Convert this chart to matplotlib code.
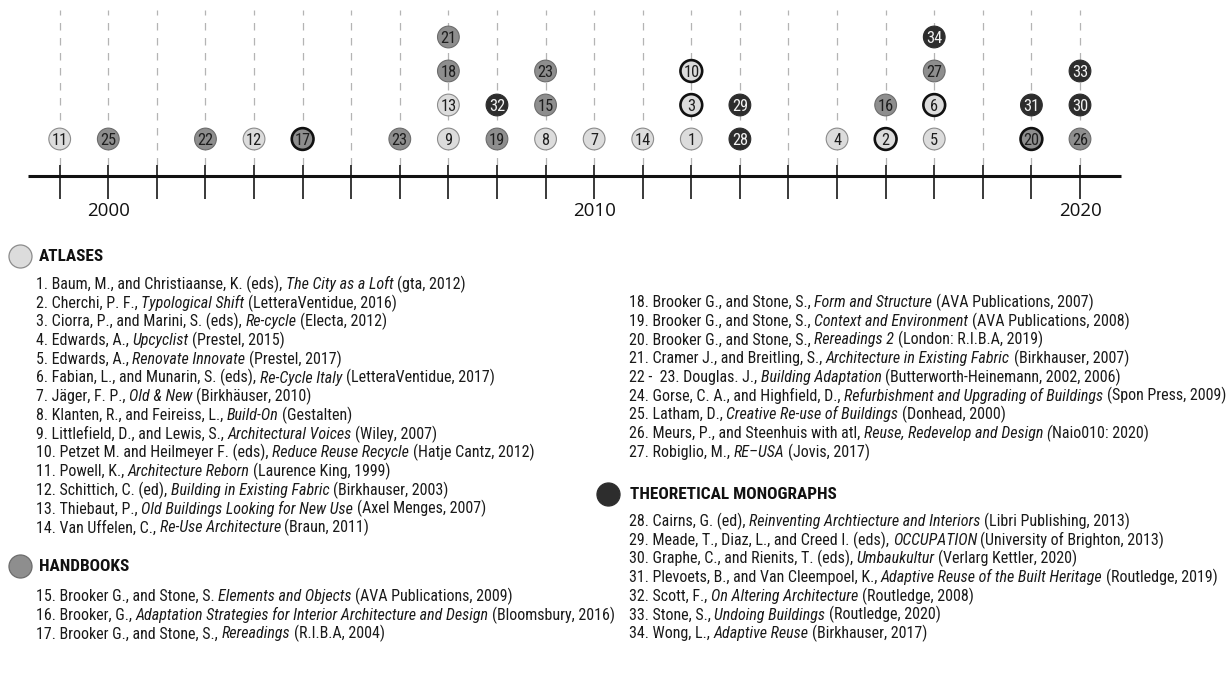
import matplotlib
matplotlib.use("Agg")
import matplotlib.pyplot as plt
from matplotlib import font_manager

# ---------------------------------------------------------------
# Dados: publicações na linha do tempo (de baixo para cima por ano)
# ---------------------------------------------------------------
marker_nums = [11, 25, 22, 12, 17, 23, 9, 13, 18, 21, 19, 32, 8, 15, 23, 7, 14,
               1, 3, 10, 28, 29, 4, 2, 16, 5, 6, 27, 34, 20, 31, 26, 30, 33]
marker_years = [1999, 2000, 2002, 2003, 2004, 2006, 2007, 2007, 2007, 2007,
                2008, 2008, 2009, 2009, 2009, 2010, 2011, 2012, 2012, 2012,
                2013, 2013, 2015, 2016, 2016, 2017, 2017, 2017, 2017, 2019,
                2019, 2020, 2020, 2020]
outlined = [17, 10, 3, 2, 6, 20]

atlas_ids = list(range(1, 15))
handbook_ids = list(range(15, 28))
theory_ids = list(range(28, 35))

year_ticks = list(range(1999, 2021))
year_labels = [2000, 2010, 2020]

# referências: (normal, itálico, normal)
atlases = [
    ("1. Baum, M., and Christiaanse, K. (eds), ", "The City as a Loft", " (gta, 2012)"),
    ("2. Cherchi, P. F., ", "Typological Shift", " (LetteraVentidue, 2016)"),
    ("3. Ciorra, P., and Marini, S. (eds), ", "Re-cycle", " (Electa, 2012)"),
    ("4. Edwards, A., ", "Upcyclist", " (Prestel, 2015)"),
    ("5. Edwards, A., ", "Renovate Innovate", " (Prestel, 2017)"),
    ("6. Fabian, L., and Munarin, S. (eds), ", "Re-Cycle Italy", " (LetteraVentidue, 2017)"),
    ("7. Jäger, F. P., ", "Old & New", " (Birkhäuser, 2010)"),
    ("8. Klanten, R., and Feireiss, L., ", "Build-On", " (Gestalten)"),
    ("9. Littlefield, D., and Lewis, S., ", "Architectural Voices", " (Wiley, 2007)"),
    ("10. Petzet M. and Heilmeyer F. (eds), ", "Reduce Reuse Recycle", " (Hatje Cantz, 2012)"),
    ("11. Powell, K., ", "Architecture Reborn", " (Laurence King, 1999)"),
    ("12. Schittich, C. (ed), ", "Building in Existing Fabric", " (Birkhauser, 2003)"),
    ("13. Thiebaut, P., ", "Old Buildings Looking for New Use", " (Axel Menges, 2007)"),
    ("14. Van Uffelen, C., ", "Re-Use Architecture", " (Braun, 2011)"),
]
handbooks_left = [
    ("15. Brooker G., and Stone, S. ", "Elements and Objects", " (AVA Publications, 2009)"),
    ("16. Brooker, G., ", "Adaptation Strategies for Interior Architecture and Design", " (Bloomsbury, 2016)"),
    ("17. Brooker G., and Stone, S., ", "Rereadings", " (R.I.B.A, 2004)"),
]
handbooks_right = [
    ("18. Brooker G., and Stone, S., ", "Form and Structure", " (AVA Publications, 2007)"),
    ("19. Brooker G., and Stone, S., ", "Context and Environment", " (AVA Publications, 2008)"),
    ("20. Brooker G., and Stone, S., ", "Rereadings 2", " (London: R.I.B.A, 2019)"),
    ("21. Cramer J., and Breitling, S., ", "Architecture in Existing Fabric", " (Birkhauser, 2007)"),
    ("22 -  23. Douglas. J., ", "Building Adaptation", " (Butterworth-Heinemann, 2002, 2006)"),
    ("24. Gorse, C. A., and Highfield, D., ", "Refurbishment and Upgrading of Buildings", " (Spon Press, 2009)"),
    ("25. Latham, D., ", "Creative Re-use of Buildings", " (Donhead, 2000)"),
    ("26. Meurs, P., and Steenhuis with atl, ", "Reuse, Redevelop and Design (", "Naio010: 2020)"),
    ("27. Robiglio, M., ", "RE\u2013USA", " (Jovis, 2017)"),
]
theory = [
    ("28. Cairns, G. (ed), ", "Reinventing Archtiecture and Interiors", " (Libri Publishing, 2013)"),
    ("29. Meade, T., Diaz, L., and Creed I. (eds), ", "OCCUPATION", " (University of Brighton, 2013)"),
    ("30. Graphe, C., and Rienits, T. (eds), ", "Umbaukultur", " (Verlarg Kettler, 2020)"),
    ("31. Plevoets, B., and Van Cleempoel, K., ", "Adaptive Reuse of the Built Heritage", " (Routledge, 2019)"),
    ("32. Scott, F., ", "On Altering Architecture", " (Routledge, 2008)"),
    ("33. Stone, S., ", "Undoing Buildings", " (Routledge, 2020)"),
    ("34. Wong, L., ", "Adaptive Reuse", " (Birkhauser, 2017)"),
]

# cores por categoria
FILL = {"A": "#dcdcdc", "H": "#8e8e8e", "T": "#2d2d2d"}
EDGE = {"A": "#8c8c8c", "H": "#6c6c6c", "T": "#2d2d2d"}
TXT = {"A": "#1e1e1e", "H": "#1e1e1e", "T": "#f2f2f2"}


# fonte estreita, se houver alguma instalada
def escolhe_fonte():
    lista = font_manager.fontManager.ttflist
    nomes = {f.name for f in lista}
    for n in ["Liberation Sans Narrow", "Arial Narrow", "Roboto Condensed",
              "Open Sans Condensed", "Noto Sans Condensed",
              "Noto Sans SemiCondensed", "Open Sans SemiCondensed"]:
        if n in nomes:
            return n, "normal"
    for f in lista:
        if f.stretch in ("condensed", "semi-condensed", "extra-condensed") and \
                any(k in f.name for k in ("Sans", "Roboto", "Lato", "Inter")):
            return f.name, f.stretch
    return "Liberation Sans", "normal"


NARROW, STRETCH = escolhe_fonte()
FAM = [NARROW, "DejaVu Sans"]

W, H = 1229, 680
fig = plt.figure(figsize=(W / 100, H / 100), dpi=100)

# ===========================================
# LINHA DO TEMPO
# ===========================================
tl_h = 230
tl = fig.add_axes([0, 1 - tl_h / H, 1, tl_h / H])
px_ano = (1080 - 59.7) / 21
tl.set_xlim(1999 - 59.7 / px_ano, 1999 + (W - 59.7) / px_ano)
row_px = 34.0
tl.set_ylim((139 - tl_h) / row_px, 139 / row_px)
tl.axis("off")

y_axis = (139 - 176) / row_px
tick_top = (139 - 165) / row_px
tick_bot = (139 - 199) / row_px
dash_top = (139 - 10) / row_px

for ano in year_ticks:
    tl.plot([ano, ano], [tick_top, dash_top], color="#b4b4b4", lw=0.9,
            dashes=(6, 6), zorder=1)
tl.vlines(year_ticks, tick_bot, tick_top, color="#2a2a2a", lw=1.3, zorder=2)
tl.plot([year_ticks[0] - 0.65, year_ticks[-1] + 0.84], [y_axis, y_axis],
        color="#111111", lw=2.2, solid_capstyle="butt", zorder=2)

for ano in year_labels:
    tl.text(ano, (139 - 211) / row_px, str(ano), ha="center", va="center",
            fontsize=13.5, family=["Open Sans", "DejaVu Sans"], color="#111111")


def categoria(n):
    if n in atlas_ids:
        return "A"
    if n in handbook_ids:
        return "H"
    return "T"


contagem = {}
xs, ys, fills, edges, lws = [], [], [], [], []
for n, ano in zip(marker_nums, marker_years):
    nivel = contagem.get(ano, 0)
    contagem[ano] = nivel + 1
    cat = categoria(n)
    xs.append(ano)
    ys.append(nivel)
    fills.append(FILL[cat])
    if n in outlined:
        edges.append("#111111")
        lws.append(1.9)
    else:
        edges.append(EDGE[cat])
        lws.append(0.8)
    tl.text(ano, nivel, str(n), ha="center", va="center_baseline", fontsize=11.8,
            family=FAM, stretch=STRETCH, color=TXT[cat], zorder=4)

tl.scatter(xs, ys, s=245, c=fills, edgecolors=edges, linewidths=lws, zorder=3)

# ===========================================
# LEGENDA / REFERÊNCIAS
# ===========================================
lg = fig.add_axes([0, 0, 1, 1], zorder=-1)
lg.set_xlim(0, W)
lg.set_ylim(H, 0)
lg.axis("off")

renderer = fig.canvas.get_renderer()


def largura(s, style, fs, weight="normal"):
    t = lg.text(0, 0, s, fontsize=fs, style=style, family=FAM, stretch=STRETCH,
                fontweight=weight)
    w = t.get_window_extent(renderer).width
    t.remove()
    return w


def largura_item(partes, fs):
    total = 0
    for parte, st in zip(partes, ("normal", "italic", "normal")):
        total += largura(parte.replace(" ", "\u00a0"), st, fs)
    return total


# tamanhos ajustados à largura das linhas da referência
ITEM_FS = 10.0 * 596 / largura_item(handbooks_right[5], 10.0)
HEAD_FS = 10.0 * 207 / largura("THEORETICAL MONOGRAPHS", "normal", 10.0, "bold")

esp = {st: largura("a a", st, ITEM_FS) - largura("aa", st, ITEM_FS)
       for st in ("normal", "italic")}


def escreve_item(x, y, partes):
    for parte, st in zip(partes, ("normal", "italic", "normal")):
        nucleo = parte.strip()
        x += (len(parte) - len(parte.lstrip())) * esp[st]
        if nucleo:
            lg.text(x, y, nucleo, fontsize=ITEM_FS, style=st, family=FAM,
                    stretch=STRETCH, va="baseline", ha="left", color="#1a1a1a")
            x += largura(nucleo, st, ITEM_FS)
        x += (len(parte) - len(parte.rstrip())) * esp[st]


def cabecalho(xc, xt, y, texto, cat):
    lg.scatter([xc], [y], s=275, c=FILL[cat], edgecolors=EDGE[cat], linewidths=0.9)
    lg.text(xt, y + 5.0, texto, fontsize=HEAD_FS, fontweight="bold", family=FAM,
            stretch=STRETCH, va="baseline", color="#111111")


passo = 18.72
base = 5.0

cabecalho(19.5, 39, 256, "ATLASES", "A")
for i, item in enumerate(atlases):
    escreve_item(36, 284 + passo * i + base, item)

cabecalho(19.5, 39, 566, "HANDBOOKS", "H")
for i, item in enumerate(handbooks_left):
    escreve_item(36, 596 + passo * i + base, item)

for i, item in enumerate(handbooks_right):
    escreve_item(629, 302 + passo * i + base, item)

cabecalho(607.5, 630, 494, "THEORETICAL MONOGRAPHS", "T")
for i, item in enumerate(theory):
    escreve_item(629, 521 + passo * i + base, item)

fig.savefig("out.png", dpi=100)
